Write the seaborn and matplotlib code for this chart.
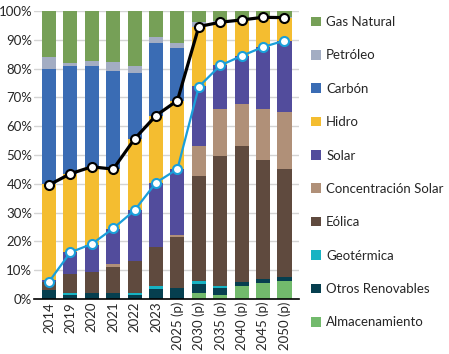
import numpy as np
import pandas as pd
import matplotlib
matplotlib.use("Agg")
import matplotlib.pyplot as plt
import seaborn as sns
from matplotlib.patches import Patch

sns.set_theme(style="white")
plt.rcParams['font.family'] = ['Lato', 'DejaVu Sans']
FS = 9.5

years = ["2014", "2019", "2020", "2021", "2022", "2023", "2025 (p)",
         "2030 (p)", "2035 (p)", "2040 (p)", "2045 (p)", "2050 (p)"]

# stack order bottom -> top
almacenamiento = [0, 0, 0, 0, 0, 0, 0, 2.2, 1.4, 4.6, 5.4, 6.2]
otros = [3.0, 1.5, 2.2, 2.2, 1.5, 3.6, 3.8, 3.1, 2.3, 1.4, 1.4, 1.4]
geotermica = [0, 0.7, 0, 0, 0.7, 0.9, 0, 0.9, 0.8, 0, 0, 0]
eolica = [3.0, 6.6, 7.2, 9.0, 11.0, 13.5, 17.6, 36.6, 45.3, 47.2, 41.5, 37.5]
csp = [0, 0, 0, 0.8, 0, 0, 0.8, 10.4, 16.2, 14.4, 17.6, 19.8]
solar = [0.5, 7.6, 9.5, 12.4, 17.6, 22.4, 22.9, 20.6, 15.1, 16.8, 21.6, 24.8]
hidro = [33.5, 27.1, 27.0, 20.7, 24.8, 23.3, 23.8, 20.8, 15.0, 12.5, 10.3, 8.0]
carbon = [40.0, 37.5, 35.0, 34.2, 22.9, 25.1, 18.4, 0, 0, 0, 0, 0]
petroleo = [4.0, 0.9, 1.7, 3.1, 2.4, 2.3, 1.5, 1.7, 0.4, 0.3, 0.2, 0.3]
gas = [16.0, 18.1, 17.4, 17.6, 19.1, 8.9, 11.2, 3.7, 3.5, 2.8, 2.0, 2.0]

linea_total = [39.6, 43.5, 45.9, 45.1, 55.6, 63.7, 68.9, 94.6, 96.1, 96.9, 97.8, 97.7]
linea_sin_hidro = [6.0, 16.2, 19.1, 24.5, 30.8, 40.4, 45.1, 73.7, 81.1, 84.4, 87.5, 89.7]

series = [
    ("Almacenamiento", almacenamiento, "#72ba6c"),
    ("Otros Renovables", otros, "#063f4f"),
    ("Geotérmica", geotermica, "#17b3c3"),
    ("Eólica", eolica, "#5f4a3e"),
    ("Concentración Solar", csp, "#b09078"),
    ("Solar", solar, "#524c9c"),
    ("Hidro", hidro, "#f4bd30"),
    ("Carbón", carbon, "#3a6cb4"),
    ("Petróleo", petroleo, "#a3adc3"),
    ("Gas Natural", gas, "#76a057"),
]

W, H = 449, 354
fig = plt.figure(figsize=(W / 100, H / 100), dpi=100)
ax = fig.add_axes([34 / W, 1 - 299 / H, (299 - 34) / W, (299 - 11) / H])

cum = np.cumsum(np.array([s[1] for s in series]), axis=0)
for i in range(len(series) - 1, -1, -1):
    df = pd.DataFrame({"year": years, "v": cum[i]})
    sns.barplot(data=df, x="year", y="v", color=series[i][2], width=0.66,
                saturation=1, ax=ax, zorder=2, linewidth=0)

pos = np.arange(len(years))
sns.lineplot(x=pos, y=linea_total, ax=ax, color="black", linewidth=2.3,
             marker="o", markersize=6.5, markerfacecolor="white",
             markeredgecolor="black", markeredgewidth=1.5, zorder=5, sort=False)
sns.lineplot(x=pos, y=linea_sin_hidro, ax=ax, color="#1a9fda", linewidth=1.6,
             marker="o", markersize=6.5, markerfacecolor="white",
             markeredgecolor="#1a9fda", markeredgewidth=1.5, zorder=5, sort=False)

ax.set_xlim(-0.7, 11.68)
ax.set_ylim(0, 100)
ax.set_yticks(np.arange(0, 101, 10))
ax.set_yticklabels([f"{v}%" for v in range(0, 101, 10)], fontsize=FS)
ax.set_xticks(pos)
ax.set_xticklabels(years, rotation=90, fontsize=FS)
ax.tick_params(axis="y", length=0, pad=1.2)
ax.tick_params(axis="x", length=0, pad=2)
ax.set_xlabel("")
ax.set_ylabel("")
ax.grid(axis="y", color="#d4d4d4", linewidth=1, zorder=0)
ax.set_axisbelow(True)
for s in ["top", "right", "left"]:
    ax.spines[s].set_visible(False)
ax.spines["bottom"].set_color("black")
ax.spines["bottom"].set_linewidth(1.2)

handles = [Patch(facecolor=c, edgecolor="none", label=n) for n, _, c in reversed(series)]
fig.legend(handles=handles, loc="upper left", bbox_to_anchor=(311 / W, 1 - 16 / H),
           frameon=False, fontsize=FS, labelspacing=1.62, handlelength=0.75,
           handleheight=0.75, handletextpad=0.4, borderaxespad=0, borderpad=0)

fig.savefig("out.png", dpi=100)
